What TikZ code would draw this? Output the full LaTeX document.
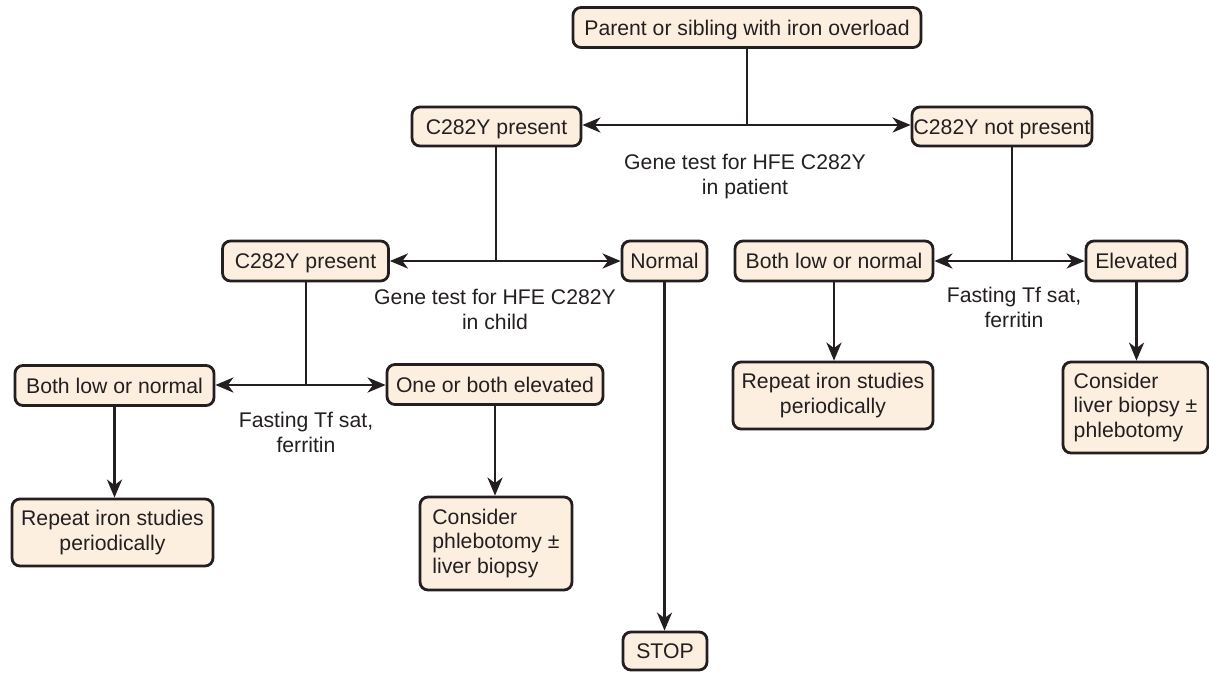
\documentclass[tikz,border=0pt]{standalone}
\usepackage{fontspec}
\setmainfont{Liberation Sans}
\usetikzlibrary{arrows.meta}
\definecolor{boxfill}{HTML}{FDEFE0}
\definecolor{ink}{HTML}{231F20}
\begin{document}
\begin{tikzpicture}[x=1pt,y=-1pt,
  every node/.style={font=\fontsize{21.2}{24.5}\selectfont, text=ink},
  box/.style={draw=ink, fill=boxfill, line width=2.8pt, rounded corners=8pt,
    inner sep=0pt, minimum height=40pt},
  oneline/.style={box, text height=15.2pt, text depth=0pt},
  link/.style={draw=ink, line width=2.7pt},
  arr/.style={link, -{Stealth[length=18pt,width=15pt,inset=5.5pt]}},
  note/.style={align=center, inner sep=0pt, anchor=north}]
\useasboundingbox (0,0) rectangle (1209,672);

% boxes
\node[oneline, minimum width=348pt] (parent) at (747,27.5) {Parent or sibling with iron overload};
\node[oneline, minimum width=169pt, minimum height=39pt] (pres1) at (496.5,126.5) {C282Y present};
\node[oneline, minimum width=180pt, minimum height=39pt] (notp) at (1002,126.5) {C282Y not present};
\node[oneline, minimum width=166pt] (pres2) at (305.5,261) {C282Y present};
\node[oneline, minimum width=85pt] (normal) at (664.5,261) {Normal};
\node[oneline, minimum width=198pt] (bothR) at (834,261) {Both low or normal};
\node[oneline, minimum width=101pt] (elev) at (1136.5,261) {Elevated};
\node[oneline, minimum width=199pt] (bothL) at (114.5,385.5) {Both low or normal};
\node[oneline, minimum width=216pt] (oneboth) at (495,384.5) {One or both elevated};
\node[box, minimum width=201pt, minimum height=67pt, align=center] (repL) at (112.5,532.5) {Repeat iron studies\\periodically};
\node[box, minimum width=152pt, minimum height=93pt, align=left] (consL) at (496,543.5) {Consider\\phlebotomy ±\\liver biopsy};
\node[oneline, minimum width=84pt, minimum height=38pt] (stop) at (665,651) {STOP};
\node[box, minimum width=200pt, minimum height=67pt, align=center] (repR) at (833,395.5) {Repeat iron studies\\periodically};
\node[box, minimum width=145pt, minimum height=91pt, align=left] (consR) at (1135.5,407.5) {Consider\\liver biopsy ±\\phlebotomy};

% test labels
\node[note] (lpat) at (745,154) {Gene test for HFE C282Y\\in patient};
\node[note] (lchild) at (495,289) {Gene test for HFE C282Y\\in child};
\node[note] (lfastL) at (306,412) {Fasting Tf sat,\\ferritin};
\node[note] (lfastR) at (1014,287) {Fasting Tf sat,\\ferritin};

% branch points
\coordinate (j1) at (747,125);
\coordinate (j2) at (496,261);
\coordinate (j3) at (1012,261);
\coordinate (j4) at (306,385);

% parent: gene test in patient
\draw[link] (parent.south) -- (j1);
\draw[arr] (j1) -- (pres1.east |- j1);
\draw[arr] (j1) -- (notp.west |- j1);

% C282Y present: gene test in child
\draw[link] (pres1.south -| j2) -- (j2);
\draw[arr] (j2) -- (pres2.east |- j2);
\draw[arr] (j2) -- (normal.west |- j2);

% C282Y not present: iron studies
\draw[link] (notp.south -| j3) -- (j3);
\draw[arr] (j3) -- (bothR.east |- j3);
\draw[arr] (j3) -- (elev.west |- j3);

% child positive: iron studies
\draw[link] (pres2.south -| j4) -- (j4);
\draw[arr] (j4) -- (bothL.east |- j4);
\draw[arr] (j4) -- (oneboth.west |- j4);

% outcomes
\draw[arr] (bothL.south) -- (bothL.south |- repL.north);
\draw[arr] (oneboth.south) -- (oneboth.south |- consL.north);
\draw[arr] (normal.south) -- (normal.south |- stop.north);
\draw[arr] (bothR.south) -- (bothR.south |- repR.north);
\draw[arr] (elev.south) -- (elev.south |- consR.north);
\end{tikzpicture}
\end{document}
